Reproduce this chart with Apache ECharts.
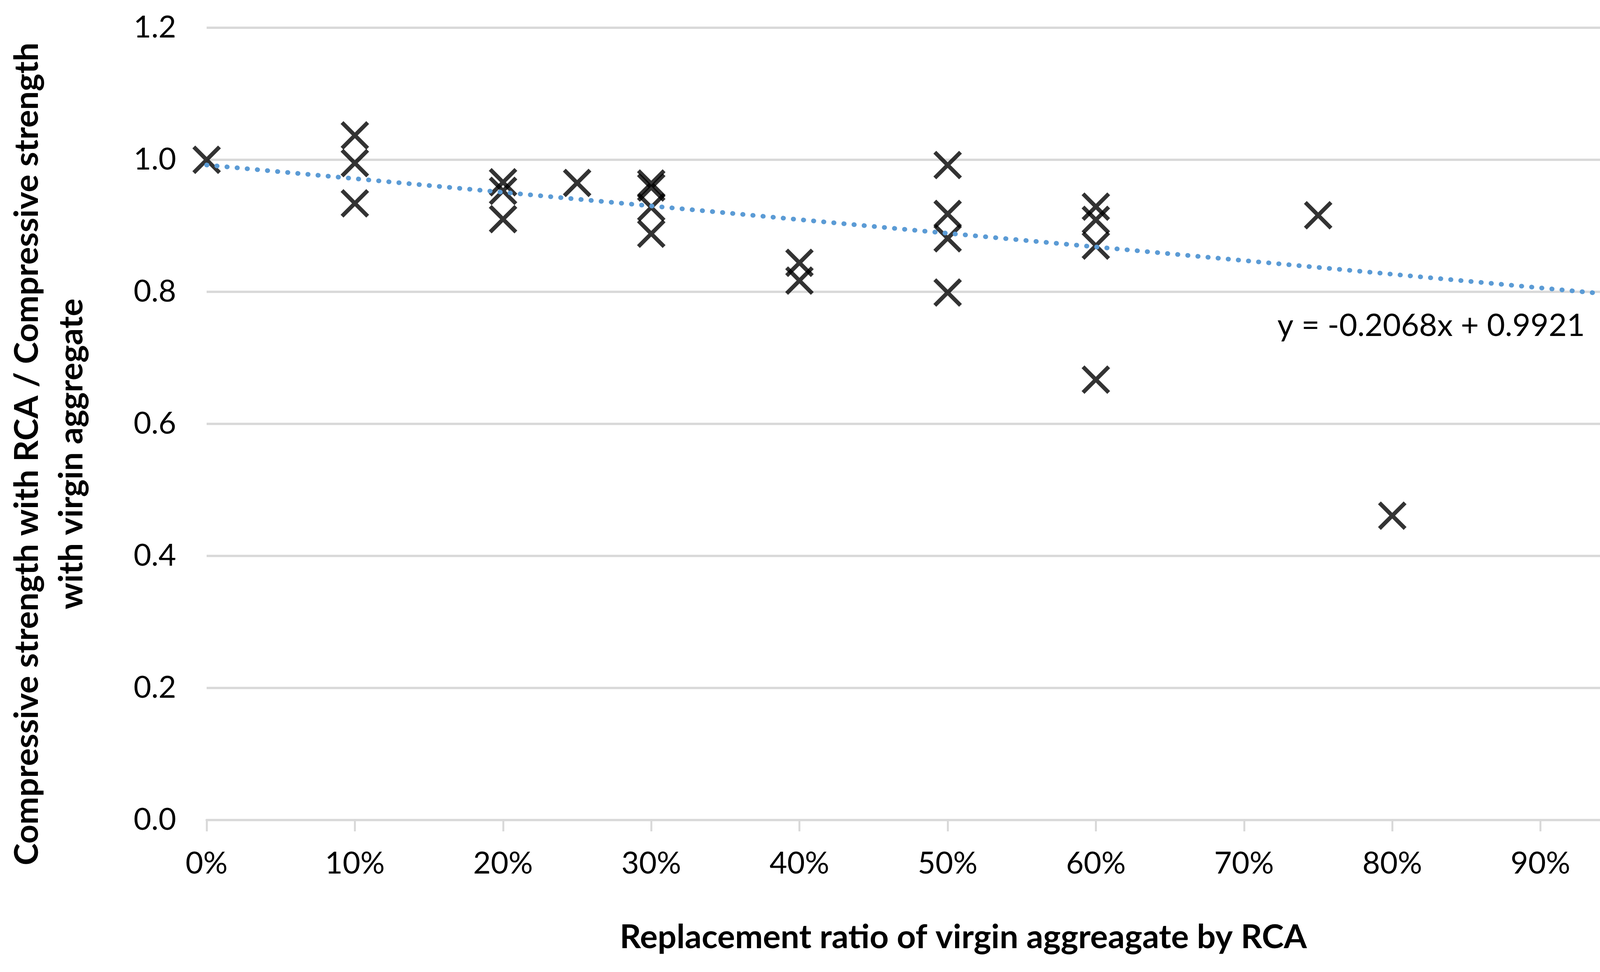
<!DOCTYPE html>
<html>
<head>
<meta charset="utf-8">
<script src="https://cdn.jsdelivr.net/npm/echarts@6/dist/echarts.min.js"></script>
<style>html,body{margin:0;padding:0;background:#fff}#c{width:4455px;height:2488px}</style>
</head>
<body>
<div id="c"></div>
<script>
// Replacement ratio (fraction) of each measured point
const replacementRatio = [
  0.0,
  0.1, 0.1, 0.1,
  0.2, 0.2, 0.2,
  0.25,
  0.3, 0.3, 0.3, 0.3,
  0.4, 0.4,
  0.5, 0.5, 0.5, 0.5,
  0.6, 0.6, 0.6, 0.6,
  0.75,
  0.8,
  1.0, 1.0, 1.0, 1.0, 1.0, 1.0, 1.0
];
// Strength ratio (RCA / virgin) for each point
const strengthRatio = [
  1.000,
  1.037, 0.995, 0.934,
  0.966, 0.953, 0.910,
  0.965,
  0.964, 0.958, 0.928, 0.888,
  0.844, 0.817,
  0.992, 0.918, 0.881, 0.799,
  0.929, 0.909, 0.870, 0.667,
  0.916,
  0.461,
  0.924, 0.870, 0.861, 0.852, 0.842, 0.809, 0.645
];
// Linear trendline end points
const trendX = [0, 1];
const trendY = [0.9921, 0.7853];
const xTicks = [0, 0.1, 0.2, 0.3, 0.4, 0.5, 0.6, 0.7, 0.8, 0.9, 1.0];
const yTicks = [0, 0.2, 0.4, 0.6, 0.8, 1.0, 1.2];
const equationText = 'y = -0.2068x + 0.9921';
const xTitle = 'Replacement ratio of virgin aggreagate by RCA';
const yTitle = 'Compressive strength with RCA / Compressive strength\nwith virgin aggregate';

const FONT = 'Lato';
const chart = echarts.init(document.getElementById('c'), null, {renderer: 'canvas'});
const scatterData = replacementRatio.map((x, i) => [x, strengthRatio[i]]);
const trendData = trendX.map((x, i) => [x, trendY[i]]);
const xSymbol = 'path://M0,10 L10,0 L100,90 L90,100 Z M90,0 L100,10 L10,100 L0,90 Z';

chart.setOption({
  backgroundColor: '#ffffff',
  animation: false,
  grid: {left: 529, right: 132, top: 71, bottom: 389, containLabel: false},
  xAxis: {
    type: 'value',
    min: xTicks[0], max: xTicks[xTicks.length - 1], interval: 0.1,
    axisLine: {show: true, lineStyle: {color: '#D9D9D9', width: 6}},
    axisTick: {show: true, length: 29, lineStyle: {color: '#D9D9D9', width: 5}},
    splitLine: {show: false},
    axisLabel: {
      margin: 73, color: '#000', fontFamily: FONT, fontSize: 78,
      formatter: v => Math.round(v * 100) + '%'
    }
  },
  yAxis: {
    type: 'value',
    min: yTicks[0], max: yTicks[yTicks.length - 1], interval: 0.2,
    axisLine: {show: false},
    axisTick: {show: false},
    splitLine: {show: true, lineStyle: {color: '#D9D9D9', width: 6}},
    axisLabel: {
      margin: 78, color: '#000', fontFamily: FONT, fontSize: 78,
      formatter: v => v.toFixed(1)
    }
  },
  series: [
    {
      type: 'scatter',
      data: scatterData,
      symbol: xSymbol,
      symbolSize: 73,
      itemStyle: {color: '#000000'},
      z: 2
    },
    {
      type: 'line',
      data: trendData,
      showSymbol: false,
      symbol: 'none',
      lineStyle: {color: '#5B9BD5', width: 12, type: [1, 25], cap: 'round'},
      z: 3,
      silent: true
    }
  ],
  graphic: [
    {
      type: 'text', x: 3270, y: 834,
      style: {text: equationText, fontFamily: FONT, fontSize: 80, fill: '#000',
              align: 'left', verticalAlign: 'middle'}
    },
    {
      type: 'text', x: 2466, y: 2400,
      style: {text: xTitle, fontFamily: FONT, fontSize: 85, fontWeight: 'bold', fill: '#000',
              align: 'center', verticalAlign: 'middle'}
    },
    {
      type: 'text', x: 127, y: 1162, rotation: Math.PI / 2,
      style: {text: yTitle, fontFamily: FONT, fontSize: 85, fontWeight: 'bold', fill: '#000',
              align: 'center', verticalAlign: 'middle', lineHeight: 114}
    }
  ]
});
</script>
</body>
</html>
